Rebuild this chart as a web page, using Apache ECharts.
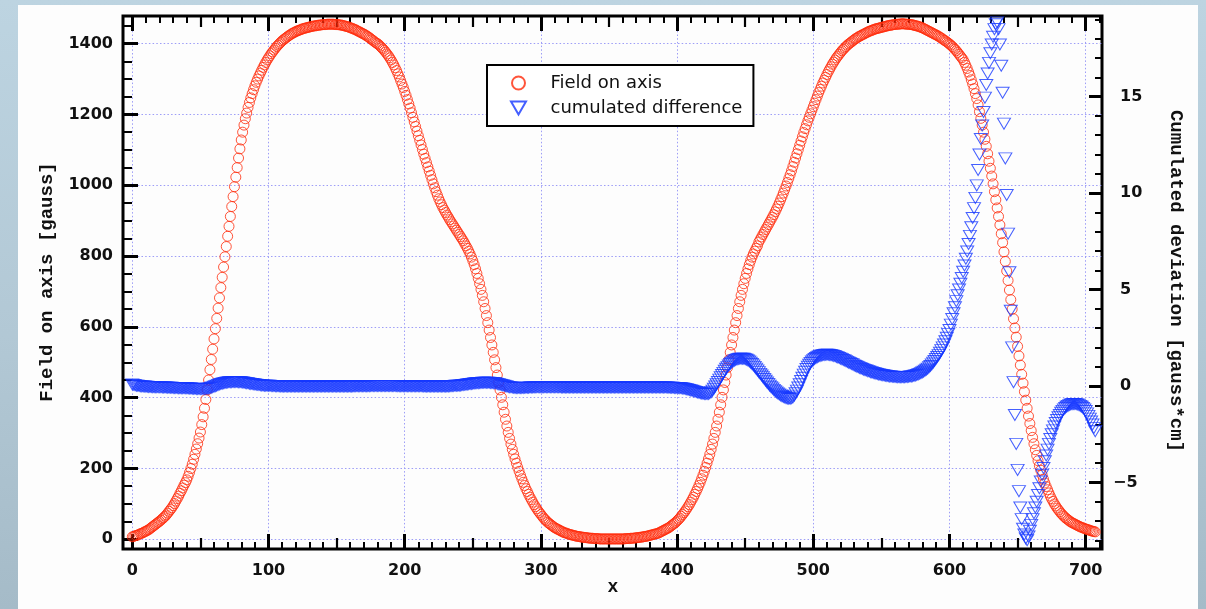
<!DOCTYPE html>
<html>
<head>
<meta charset="utf-8">
<script src="https://cdn.jsdelivr.net/npm/echarts@6/dist/echarts.min.js"></script>
<style>
html,body{margin:0;padding:0;width:1206px;height:609px;overflow:hidden;
  background:linear-gradient(180deg,#bdd4e1 0%,#b2c8d5 55%,#a5bbc8 100%);}
#panel{position:absolute;left:18px;top:5px;width:1180px;height:604px;background:#fdfdfd;}
#chart{position:absolute;left:0;top:0;width:1206px;height:609px;}
</style>
</head>
<body>
<div id="panel"></div>
<div id="chart"></div>
<script>
// ---- data (x = 0, 1, 2, ... cm) ----
const xStart = 0;
const xStep = 1;

// Field on axis [gauss]
const fieldOnAxis = [
  7,8,10,11,12,14,16,17,19,21,
  23,25,27,30,33,36,39,42,45,48,
  51,54,58,61,65,69,74,79,84,89,
  95,101,108,115,122,130,137,145,153,160,
  168,178,189,200,212,226,240,255,270,286,
  303,324,346,370,395,422,450,479,508,537,
  566,595,624,653,682,711,740,769,798,827,
  856,884,912,940,968,996,1023,1050,1077,1103,
  1128,1150,1170,1188,1204,1220,1234,1247,1259,1270,
  1281,1291,1300,1309,1317,1325,1333,1340,1347,1354,
  1360,1366,1372,1377,1382,1387,1392,1396,1400,1404,
  1408,1411,1414,1417,1420,1423,1425,1428,1430,1432,
  1434,1436,1437,1439,1440,1442,1443,1444,1445,1446,
  1447,1448,1449,1450,1450,1451,1452,1452,1453,1453,
  1454,1454,1454,1455,1455,1455,1455,1455,1455,1454,
  1454,1454,1453,1453,1452,1451,1450,1449,1448,1447,
  1445,1444,1442,1441,1439,1437,1435,1433,1431,1429,
  1427,1425,1422,1420,1417,1414,1411,1408,1405,1402,
  1400,1397,1393,1389,1385,1381,1376,1371,1366,1360,
  1354,1347,1340,1332,1324,1315,1306,1296,1286,1276,
  1265,1254,1242,1230,1218,1205,1192,1179,1166,1153,
  1140,1127,1114,1101,1088,1076,1064,1052,1040,1028,
  1016,1004,993,982,972,962,953,945,937,930,
  923,916,910,903,897,891,885,879,873,867,
  861,855,849,843,836,829,822,814,806,797,
  787,776,764,751,737,722,706,689,671,652,
  632,612,591,570,549,528,507,485,464,443,
  422,401,380,359,339,320,302,285,269,254,
  240,227,215,203,192,181,171,161,152,143,
  135,127,119,112,105,98,92,86,80,75,
  70,65,60,56,52,48,45,42,39,36,
  33,31,29,27,25,23,21,19,18,17,
  15,14,13,12,11,10,9,8,8,7,
  6,6,5,5,4,4,3,3,3,2,
  2,2,2,1,1,1,1,1,1,1,
  1,1,1,1,1,1,1,1,1,1,
  1,1,2,2,2,2,3,3,3,4,
  4,5,5,6,6,7,8,8,9,10,
  11,12,13,14,15,16,17,19,21,23,
  25,27,29,31,33,36,39,42,45,48,
  52,56,60,65,70,75,80,86,92,98,
  105,112,119,127,135,143,152,161,171,181,
  192,203,215,227,240,254,269,285,302,320,
  339,359,380,401,422,443,464,485,507,528,
  549,570,591,612,632,652,671,689,706,722,
  737,751,764,776,787,797,806,814,822,829,
  840,847,854,861,868,875,882,889,896,903,
  910,917,925,933,941,950,959,968,978,988,
  998,1008,1019,1030,1041,1053,1065,1077,1089,1101,
  1113,1125,1137,1149,1160,1171,1182,1192,1202,1212,
  1222,1232,1242,1252,1262,1271,1280,1289,1297,1305,
  1313,1321,1328,1335,1342,1348,1354,1360,1365,1370,
  1375,1380,1384,1388,1392,1396,1399,1402,1405,1408,
  1411,1414,1416,1419,1421,1423,1425,1427,1429,1431,
  1433,1435,1436,1438,1439,1441,1442,1443,1444,1445,
  1446,1447,1448,1449,1450,1451,1452,1452,1453,1454,
  1454,1455,1455,1455,1456,1456,1456,1456,1455,1455,
  1455,1454,1454,1453,1452,1451,1450,1449,1448,1446,
  1445,1443,1441,1439,1437,1435,1433,1431,1429,1427,
  1425,1423,1421,1418,1416,1413,1410,1408,1405,1402,
  1399,1396,1392,1388,1384,1380,1375,1370,1365,1360,
  1355,1347,1339,1330,1320,1310,1298,1286,1273,1259,
  1245,1227,1208,1189,1170,1150,1130,1110,1089,1068,
  1048,1026,1004,982,959,936,912,888,863,838,
  812,785,758,731,704,677,650,623,597,571,
  545,518,492,466,441,417,393,370,348,327,
  307,288,270,253,237,222,208,195,182,170,
  159,149,140,131,122,114,107,100,94,88,
  83,78,73,69,65,61,58,55,52,49,
  47,45,43,41,39,37,35,34,32,31,
  29,28,27,25,24,23,22,21
];

// cumulated difference [gauss*cm]
const cumulatedDifference = [
  0.08,0.06,0.04,0.02,0.01,0,-0.01,-0.02,-0.03,-0.03,
  -0.04,-0.04,-0.05,-0.05,-0.05,-0.06,-0.06,-0.06,-0.07,-0.07,
  -0.07,-0.07,-0.08,-0.08,-0.08,-0.08,-0.09,-0.09,-0.09,-0.09,
  -0.1,-0.1,-0.1,-0.1,-0.11,-0.11,-0.11,-0.12,-0.12,-0.12,
  -0.12,-0.13,-0.13,-0.13,-0.14,-0.14,-0.14,-0.15,-0.15,-0.15,
  -0.16,-0.16,-0.16,-0.16,-0.15,-0.14,-0.13,-0.11,-0.09,-0.07,
  -0.04,-0.01,0.02,0.05,0.08,0.1,0.12,0.14,0.16,0.17,
  0.18,0.19,0.2,0.2,0.21,0.21,0.21,0.21,0.2,0.2,
  0.19,0.18,0.17,0.16,0.15,0.14,0.12,0.11,0.1,0.09,
  0.08,0.07,0.06,0.05,0.04,0.03,0.03,0.02,0.02,0.01,
  0.01,0.01,0,0,0,-0.01,-0.01,-0.01,-0.01,-0.02,
  -0.02,-0.02,-0.02,-0.02,-0.02,-0.02,-0.02,-0.02,-0.02,-0.02,
  -0.02,-0.02,-0.02,-0.02,-0.03,-0.03,-0.03,-0.03,-0.03,-0.03,
  -0.03,-0.03,-0.03,-0.03,-0.03,-0.03,-0.03,-0.03,-0.03,-0.03,
  -0.03,-0.03,-0.03,-0.03,-0.03,-0.02,-0.02,-0.02,-0.02,-0.02,
  -0.02,-0.02,-0.02,-0.02,-0.02,-0.02,-0.02,-0.02,-0.02,-0.02,
  -0.02,-0.02,-0.02,-0.01,-0.01,-0.01,-0.01,-0.01,-0.01,-0.01,
  -0.01,-0.01,-0.01,-0.01,-0.01,0,0,0,0,0,
  0,0,0,0,0,0,0,0,0,0,
  0,0,0,0,0,-0.01,-0.01,-0.01,-0.01,-0.01,
  -0.01,-0.01,-0.01,-0.01,-0.01,-0.01,-0.01,-0.01,-0.01,-0.01,
  -0.01,-0.01,-0.01,-0.01,-0.02,-0.02,-0.02,-0.02,-0.02,-0.02,
  -0.02,-0.02,-0.02,-0.02,-0.02,-0.02,-0.02,-0.02,-0.02,-0.02,
  -0.02,-0.02,-0.02,-0.01,-0.01,0,0,0.01,0.01,0.02,
  0.02,0.03,0.04,0.05,0.06,0.07,0.08,0.09,0.1,0.11,
  0.12,0.13,0.14,0.15,0.15,0.16,0.16,0.17,0.17,0.17,
  0.17,0.17,0.17,0.16,0.16,0.15,0.14,0.13,0.11,0.09,
  0.07,0.05,0.03,0.01,-0.01,-0.03,-0.05,-0.06,-0.07,-0.08,
  -0.09,-0.1,-0.1,-0.1,-0.1,-0.1,-0.1,-0.1,-0.09,-0.09,
  -0.09,-0.09,-0.08,-0.08,-0.08,-0.08,-0.07,-0.07,-0.07,-0.07,
  -0.07,-0.07,-0.07,-0.07,-0.07,-0.07,-0.07,-0.07,-0.07,-0.07,
  -0.07,-0.07,-0.07,-0.07,-0.07,-0.08,-0.08,-0.08,-0.08,-0.08,
  -0.08,-0.08,-0.08,-0.08,-0.08,-0.08,-0.08,-0.08,-0.08,-0.08,
  -0.08,-0.08,-0.08,-0.08,-0.08,-0.08,-0.08,-0.08,-0.08,-0.08,
  -0.08,-0.08,-0.08,-0.08,-0.08,-0.08,-0.08,-0.08,-0.08,-0.08,
  -0.08,-0.08,-0.08,-0.08,-0.08,-0.08,-0.08,-0.08,-0.08,-0.08,
  -0.08,-0.08,-0.08,-0.08,-0.08,-0.08,-0.08,-0.08,-0.08,-0.08,
  -0.08,-0.08,-0.08,-0.08,-0.08,-0.08,-0.08,-0.08,-0.08,-0.08,
  -0.08,-0.08,-0.08,-0.08,-0.08,-0.08,-0.08,-0.08,-0.08,-0.08,
  -0.08,-0.08,-0.08,-0.08,-0.09,-0.09,-0.09,-0.09,-0.1,-0.1,
  -0.1,-0.1,-0.11,-0.12,-0.13,-0.14,-0.15,-0.17,-0.19,-0.21,
  -0.23,-0.25,-0.27,-0.29,-0.31,-0.33,-0.35,-0.37,-0.39,-0.4,
  -0.41,-0.42,-0.42,-0.41,-0.38,-0.32,-0.24,-0.14,-0.03,0.09,
  0.21,0.33,0.45,0.57,0.68,0.79,0.89,0.98,1.06,1.14,
  1.2,1.26,1.31,1.35,1.38,1.4,1.41,1.42,1.42,1.41,
  1.39,1.36,1.32,1.27,1.21,1.14,1.07,0.99,0.9,0.81,
  0.72,0.63,0.54,0.45,0.36,0.27,0.18,0.1,0.02,-0.06,
  -0.13,-0.2,-0.27,-0.33,-0.39,-0.44,-0.49,-0.53,-0.57,-0.6,
  -0.63,-0.65,-0.66,-0.66,-0.64,-0.59,-0.5,-0.38,-0.24,-0.08,
  0.09,0.26,0.43,0.59,0.74,0.88,1,1.1,1.19,1.27,
  1.34,1.4,1.45,1.49,1.53,1.56,1.58,1.6,1.61,1.62,
  1.62,1.62,1.61,1.6,1.58,1.56,1.54,1.51,1.48,1.45,
  1.42,1.39,1.35,1.32,1.28,1.25,1.21,1.18,1.14,1.11,
  1.07,1.04,1,0.97,0.94,0.91,0.88,0.85,0.82,0.8,
  0.77,0.75,0.72,0.7,0.68,0.66,0.64,0.62,0.6,0.59,
  0.57,0.56,0.54,0.53,0.52,0.51,0.5,0.49,0.48,0.48,
  0.47,0.47,0.46,0.46,0.46,0.46,0.46,0.46,0.47,0.47,
  0.48,0.49,0.5,0.51,0.53,0.55,0.57,0.6,0.63,0.66,
  0.7,0.74,0.79,0.84,0.9,0.97,1.04,1.12,1.21,1.3,
  1.4,1.5,1.6,1.72,1.86,2,2.15,2.32,2.5,2.7,
  2.9,3.18,3.47,3.77,4.08,4.4,4.7,5,5.3,5.6,
  5.92,6.25,6.6,6.97,7.36,7.78,8.23,8.71,9.22,9.75,
  10.4,11.2,12,12.8,13.5,14.2,14.95,15.6,16.2,16.75,
  17.25,17.7,18.1,18.5,18.75,18.85,18.5,17.7,16.6,15.2,
  13.6,11.8,9.9,7.9,5.9,3.9,2,0.2,-1.5,-3,
  -4.35,-5.45,-6.3,-6.9,-7.4,-7.7,-7.9,-8,-7.8,-7.5,
  -7.2,-6.9,-6.6,-6.3,-6,-5.65,-5.3,-4.95,-4.6,-4.25,
  -3.9,-3.6,-3.3,-3,-2.75,-2.5,-2.3,-2.1,-1.92,-1.76,
  -1.62,-1.5,-1.39,-1.29,-1.21,-1.14,-1.08,-1.03,-0.99,-0.96,
  -0.94,-0.93,-0.93,-0.94,-0.96,-0.99,-1.03,-1.08,-1.14,-1.21,
  -1.3,-1.42,-1.55,-1.69,-1.84,-2,-2.17,-2.35
];

// tick labels
const xTickLabels = [0, 100, 200, 300, 400, 500, 600, 700];
const xHalfTicks = [50, 150, 250, 350, 450, 550, 650];
const leftTickLabels = [0, 200, 400, 600, 800, 1000, 1200, 1400];
const rightTickLabels = [-5, 0, 5, 10, 15];
const xMinorStep = 10, leftMinorStep = 50, rightMinorStep = 1;

// ---- build ----
const fieldData = fieldOnAxis.map((v, i) => [xStart + i * xStep, v]);
const diffData = cumulatedDifference.map((v, i) => [xStart + i * xStep, v]);

function range(a, b, s) { const r = []; for (let t = a; t <= b + 1e-9; t += s) r.push(+t.toFixed(6)); return r; }
const xMinorTicks = range(0, 710, xMinorStep);
const leftMinorTicks = range(0, 1450, leftMinorStep);
const rightMinorTicks = range(-8, 19, rightMinorStep);
const rightPosLabels = rightTickLabels.filter(v => v >= 0);
const rightNegLabels = rightTickLabels.filter(v => v < 0);

const X_MIN = -6.83, X_MAX = 711.97;
const YL_MIN = -27.4, YL_MAX = 1478.2;
const YR_MIN = -8.45, YR_MAX = 19.18;

const tickFont = { fontFamily: 'DejaVu Sans', fontWeight: 'bold', fontSize: 16, color: '#111' };
const gridLine = { show: true, lineStyle: { color: '#9d9df7', width: 1, type: [1.5, 2.2] } };
const plain = v => (v < 0 ? '\u2212' + Math.abs(v) : String(v));

function axis(base, ticks, len, width, label, split, labelValues) {
  return Object.assign({
    type: 'value',
    axisLine: { show: false, onZero: false },
    axisTick: { show: len > 0, inside: true, length: len, customValues: ticks,
                lineStyle: { color: '#000', width: width } },
    axisLabel: label ? Object.assign({ show: true, customValues: labelValues || ticks, formatter: plain }, tickFont, label) : { show: false },
    splitLine: split ? gridLine : { show: false },
    minorTick: { show: false }, minorSplitLine: { show: false }
  }, base);
}

const xb = { min: X_MIN, max: X_MAX, gridIndex: 0 };
const xAxes = [
  axis(Object.assign({ position: 'bottom' }, xb), xTickLabels, 15, 3, { margin: 14 }, true),
  axis(Object.assign({ position: 'bottom' }, xb), xHalfTicks, 11, 2.2),
  axis(Object.assign({ position: 'bottom' }, xb), xMinorTicks, 7, 2),
  axis(Object.assign({ position: 'top' }, xb), xTickLabels, 15, 3),
  axis(Object.assign({ position: 'top' }, xb), xHalfTicks, 11, 2.2),
  axis(Object.assign({ position: 'top' }, xb), xMinorTicks, 7, 2)
];
const yAxes = [
  axis({ position: 'left', min: YL_MIN, max: YL_MAX }, leftTickLabels, 15, 3, { margin: 10 }, true),
  axis({ position: 'left', min: YL_MIN, max: YL_MAX }, leftMinorTicks, 9, 2),
  axis({ position: 'right', min: YR_MIN, max: YR_MAX }, rightTickLabels, 13, 3, { margin: 18 }, false, rightPosLabels),
  axis({ position: 'right', min: YR_MIN, max: YR_MAX }, rightMinorTicks, 7, 2),
  axis({ position: 'right', min: YR_MIN, max: YR_MAX }, rightNegLabels, 0, 0, { margin: 11 }, false, rightNegLabels)
];

const titleFont = 'bold 19px "Liberation Mono", "DejaVu Sans Mono", monospace';

const chart = echarts.init(document.getElementById('chart'), null, { renderer: 'canvas' });
chart.setOption({
  animation: false,
  backgroundColor: 'transparent',
  grid: { left: 123, top: 16, width: 979, height: 533, show: true,
          borderColor: '#000', borderWidth: 3, backgroundColor: 'transparent' },
  xAxis: xAxes,
  yAxis: yAxes,
  legend: {
    orient: 'vertical', left: 487, top: 65,
    padding: [9, 11, 9, 23], itemGap: 7, itemWidth: 54, itemHeight: 13,
    backgroundColor: '#fff', borderColor: '#000', borderWidth: 2, borderRadius: 0,
    textStyle: { fontFamily: 'DejaVu Sans', fontSize: 18, color: '#111' },
    data: ['Field on axis', 'cumulated difference']
  },
  graphic: [
    { type: 'text', x: 47, y: 282, rotation: Math.PI / 2,
      style: { text: 'Field on axis [gauss]', font: titleFont, fill: '#111',
               textAlign: 'center', textVerticalAlign: 'middle' } },
    { type: 'text', x: 1176, y: 281, rotation: -Math.PI / 2,
      style: { text: 'Cumulated deviation [gauss*cm]', font: titleFont, fill: '#111',
               textAlign: 'center', textVerticalAlign: 'middle' } },
    { type: 'text', x: 613, y: 587,
      style: { text: 'x', font: 'bold 18px "Liberation Mono", monospace', fill: '#111',
               textAlign: 'center', textVerticalAlign: 'middle' } }
  ],
  series: [
    { name: 'Field on axis', type: 'scatter', xAxisIndex: 0, yAxisIndex: 0,
      data: fieldData, symbol: 'circle', symbolSize: 10, z: 3,
      itemStyle: { color: 'rgba(255,255,255,0)', borderColor: '#ff2a0a', borderWidth: 1 },
      emphasis: { disabled: true } },
    { name: 'cumulated difference', type: 'scatter', xAxisIndex: 0, yAxisIndex: 2,
      data: diffData, symbol: 'path://M0,0L12,0L6,10.4Z', symbolSize: [13, 11], z: 4,
      itemStyle: { color: 'rgba(255,255,255,0)', borderColor: '#1537ff', borderWidth: 1 },
      emphasis: { disabled: true } }
  ]
});
</script>
</body>
</html>
